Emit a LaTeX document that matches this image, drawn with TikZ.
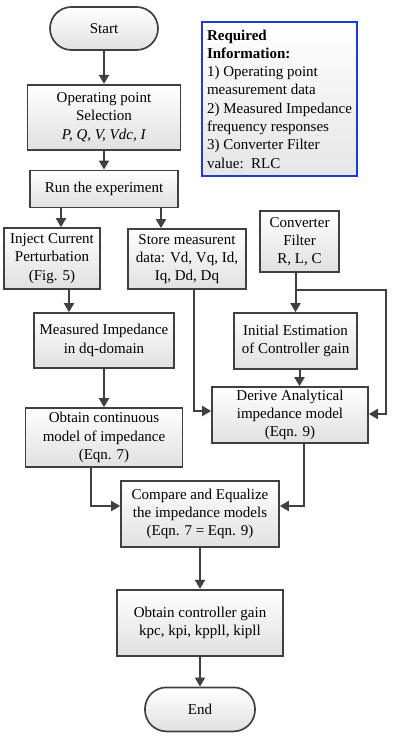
\documentclass[tikz,border=0pt]{standalone}
\usepackage{fontspec}
\setmainfont{Liberation Serif}
\usetikzlibrary{arrows.meta,positioning,calc}
\definecolor{linegray}{HTML}{404040}
\definecolor{infoblue}{HTML}{1A3FD0}

\begin{document}
\begin{tikzpicture}[
    x=1pt, y=-1pt,
    every node/.style={font=\fontsize{15}{18.3}\selectfont},
    block/.style={rectangle, draw=linegray, line width=1.7pt, top color=white, bottom color=black!12, align=center, inner sep=2pt},
    term/.style={block, rounded corners=21.5pt},
    arrow/.style={-{Triangle[length=9pt,width=10pt]}, line width=2pt, draw=linegray}
]
\useasboundingbox (0,0) rectangle (415,744);

\node[term, minimum width=108pt, minimum height=43pt] (start) at (104,28.5) {Start};
\node[block, below=33pt of start, minimum width=153pt, minimum height=65pt] (opsel) {Operating point\\Selection\\\textit{P, Q, V, Vdc, I}};
\node[block, below=19pt of opsel, minimum width=148pt, minimum height=37pt] (run) {Run the experiment};

\node[rectangle, draw=infoblue, line width=2.2pt, top color=white, bottom color=black!10, align=left, inner sep=3pt, minimum width=155pt, minimum height=154pt] (info) at (279.5,99)
  {\textbf{Required}\\\textbf{Information:}\\1) Operating point\\measurement data\\2) Measured Impedance\\frequency responses\\3) Converter Filter\\value:\ \ RLC};

\node[block, minimum width=96pt, minimum height=61pt] (inject) at (52,258.5) {Inject Current\\Perturbation\\(Fig. 5)};
\node[block, minimum width=118pt, minimum height=60pt] (store) at (187,259) {Store measurent\\data: Vd, Vq, Id,\\Iq, Dd, Dq};
\node[block, minimum width=79pt, minimum height=61pt] (filter) at (299.5,241.5) {Converter\\Filter\\R, L, C};

\node[block, minimum width=140pt, minimum height=55pt] (measz) at (104,340.5) {Measured Impedance\\in dq-domain};
\node[block, minimum width=123pt, minimum height=56pt] (initest) at (295.5,341) {Initial Estimation\\of Controller gain};
\node[block, minimum width=156pt, minimum height=56pt] (derive) at (290,415) {Derive Analytical\\impedance model\\(Eqn. 9)};
\node[block, minimum width=157pt, minimum height=59pt] (contmod) at (104,437.5) {Obtain continuous\\model of impedance\\(Eqn. 7)};

\node[block, minimum width=158pt, minimum height=66pt] (compare) at (200,514) {Compare and Equalize\\the impedance models\\(Eqn. 7 = Eqn. 9)};
\node[block, below=41pt of compare, minimum width=166pt, minimum height=66pt] (gain) {Obtain controller gain\\kpc, kpi, kppll, kipll};
\node[term, below=30pt of gain, minimum width=110pt, minimum height=44pt] (end) {End};

\coordinate (fork) at ($(initest.north |- filter.south)+(0,17)$);

\draw[arrow] (start) -- (opsel);
\draw[arrow] (opsel) -- (run);
\draw[arrow] ([xshift=-43pt]run.south) -- ([xshift=-43pt]run.south |- inject.north);
\draw[arrow] ([xshift=57pt]run.south) -- ([xshift=57pt]run.south |- store.north);
\draw[arrow] ([xshift=17pt]inject.south) -- ([xshift=17pt]inject.south |- measz.north);
\draw[arrow] (measz.south) -- (measz.south |- contmod.north);
\draw[arrow] ([xshift=7pt]store.south) |- ([yshift=4pt]derive.west);
\draw[arrow] (initest.north |- filter.south) -- (initest.north);
\draw[arrow] (fork) -- ++(90,0) |- ([yshift=1pt]derive.east);
\draw[arrow] ([xshift=4pt]initest.south) -- ([xshift=4pt]initest.south |- derive.north);
\draw[arrow] ([xshift=14pt]derive.south) |- ([yshift=8pt]compare.east);
\draw[arrow] ([xshift=-13pt]contmod.south) |- ([yshift=8pt]compare.west);
\draw[arrow] (compare) -- (gain);
\draw[arrow] (gain) -- (end);
\end{tikzpicture}
\end{document}
